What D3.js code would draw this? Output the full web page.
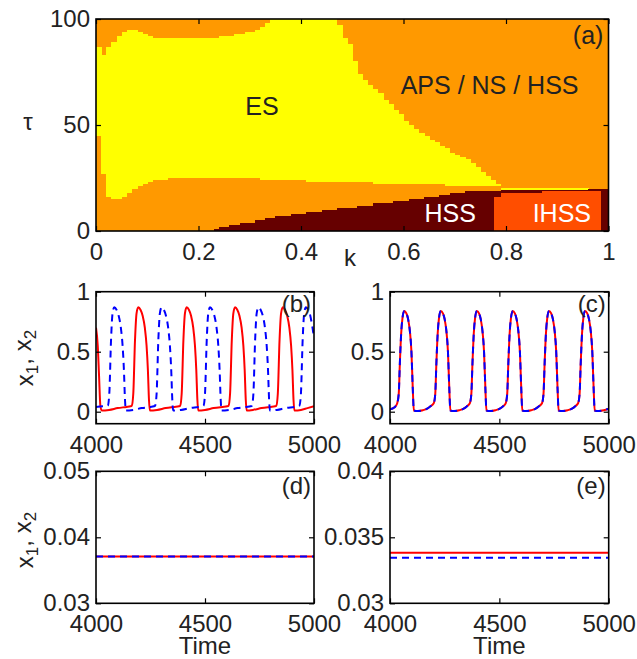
<!DOCTYPE html>
<html>
<head>
<meta charset="utf-8">
<script src="https://cdn.jsdelivr.net/npm/d3@7"></script>
<style>
  body { margin: 0; background: #fff; }
  svg { display: block; font-family: "Liberation Sans", Arial, Helvetica, sans-serif; }
</style>
</head>
<body>
<svg id="fig" width="637" height="659"></svg>
<script>
// ---------- (a) phase diagram in the (k, tau) plane ----------
// Column boundaries (tau) for k = 0.00, 0.01, ... 0.99, each column 0.01 wide.
const kStep = 0.01;
// upper edge of the ES (yellow) region
const esTop = [
  87, 83, 87, 89, 92, 94, 95, 95, 94, 93,
  92, 91, 91, 91, 91, 91, 91, 91, 91, 91,
  91, 91, 91, 91, 92, 92, 92, 93, 93, 94,
  94, 95, 96, 98, 100, 100, 100, 100, 100, 100,
  100, 100, 100, 100, 100, 100, 100, 97, 91, 88,
  80, 74, 71, 69, 67, 65, 62, 60, 57, 55,
  52, 50, 48, 46, 45, 43, 42, 40, 39, 37,
  36, 35, 34, 32, 30, 28, 26, 24, 22, 20.5,
  20.5, 20.5, 20.5, 20.5, 20.5, 20.5, 20.5, 20.5, 20.5, 20.5,
  20.5, 20.5, 20.5, 20.5, 20.5, 20.5, null, null, null, null
];
// lower edge of the ES (yellow) region
const esBottom = [
  45, 27, 16, 15, 15, 16, 18, 20, 21, 22,
  23, 24, 24, 24, 25, 25, 25, 25, 25, 25,
  25, 25, 25, 25, 25, 25, 25, 25, 25, 25,
  25, 25, 24, 24, 24, 24, 24, 24, 24, 24,
  24, 23, 23, 23, 23, 23, 23, 23, 23, 23,
  23, 23, 23, 23, 22, 22, 22, 22, 22, 22,
  22, 22, 22, 22, 22, 22, 22, 22, 21, 21,
  21, 21, 21, 21, 21, 21, 21, 21, 21, 19.5,
  19.5, 19.5, 19.5, 19.5, 19.5, 19.5, 19.5, 19.5, 19.5, 19.5,
  19.5, 19.5, 19.5, 19.5, 19.5, 19.5, null, null, null, null
];
// upper edge of the HSS (dark) region
const hssTop = [
  0, 0, 0, 0, 0, 0, 0, 0, 0, 0,
  0, 0, 0, 0, 0, 0, 0, 0, 0, 0,
  0, 0, 0, 1, 2, 2, 3, 3, 4, 4,
  4, 5, 5, 6, 6, 7, 7, 7, 8, 8,
  8, 9, 9, 9, 10, 10, 10, 11, 11, 11,
  11, 12, 12, 12, 13, 13, 13, 13, 14, 14,
  14, 15, 15, 15, 16, 16, 16, 17, 17, 18,
  18, 18, 19, 19, 19, 19, 19, 19, 19, 19.5,
  19.5, 19.5, 19.5, 19.5, 19.5, 19.5, 19.5, 19.5, 19.5, 19.5,
  19.5, 19.5, 19.5, 19.5, 19.5, 19.5, 20, 20, 20, 20
];
// inhomogeneous steady state block: k extent and per-column upper edge
const ihssSpan = [0.776, 0.986];
const ihssTop = [
  16, 16, 18, 18, 18, 18, 18, 18, 18, 18,
  19, 19, 19, 19, 19, 19, 19, 19, 19, 19, 19, 19
]; // columns 77 … 98

const kTicks = [0, 0.2, 0.4, 0.6, 0.8, 1];
const tauTicks = [0, 50, 100];

// ---------- (b)-(e) time series, [time, value] ----------
const timeTicks = [4000, 4500, 5000];

// (b) out-of-phase oscillation
const bX1 = [
  [4000, 0.70], [4008, 0.55], [4014, 0.30], [4020, 0.05], [4026, 0.01],
  [4060, 0.015], [4100, 0.03], [4140, 0.04], [4158, 0.045],
  [4164, 0.05], [4171, 0.15], [4179, 0.6], [4186, 0.82], [4194, 0.87], [4204, 0.85],
  [4214, 0.8], [4224, 0.7], [4232, 0.55], [4238, 0.35], [4243, 0.1], [4247, 0.01],
  [4280, 0.015], [4320, 0.03], [4360, 0.04], [4380, 0.045],
  [4386, 0.05], [4393, 0.15], [4401, 0.6], [4408, 0.82], [4416, 0.87], [4426, 0.85],
  [4436, 0.8], [4446, 0.7], [4454, 0.55], [4460, 0.35], [4465, 0.1], [4469, 0.01],
  [4500, 0.015], [4540, 0.03], [4580, 0.04], [4602, 0.045],
  [4608, 0.05], [4615, 0.15], [4623, 0.6], [4630, 0.82], [4638, 0.87], [4648, 0.85],
  [4658, 0.8], [4668, 0.7], [4676, 0.55], [4682, 0.35], [4687, 0.1], [4691, 0.01],
  [4720, 0.015], [4760, 0.03], [4800, 0.04], [4821, 0.045],
  [4827, 0.05], [4834, 0.15], [4842, 0.6], [4849, 0.82], [4857, 0.87], [4867, 0.85],
  [4877, 0.8], [4887, 0.7], [4895, 0.55], [4901, 0.35], [4906, 0.1], [4910, 0.01],
  [4940, 0.015], [4970, 0.03], [5000, 0.045]
];
const bX2 = [
  [4000, 0.04], [4030, 0.045],
  [4054, 0.05], [4061, 0.15], [4069, 0.6], [4076, 0.82], [4084, 0.87], [4094, 0.85],
  [4104, 0.8], [4114, 0.7], [4122, 0.55], [4128, 0.35], [4133, 0.1], [4137, 0.01],
  [4170, 0.015], [4210, 0.03], [4250, 0.04], [4265, 0.045],
  [4271, 0.05], [4278, 0.15], [4286, 0.6], [4293, 0.82], [4301, 0.87], [4311, 0.85],
  [4321, 0.8], [4331, 0.7], [4339, 0.55], [4345, 0.35], [4350, 0.1], [4354, 0.01],
  [4390, 0.015], [4430, 0.03], [4470, 0.04], [4487, 0.045],
  [4493, 0.05], [4500, 0.15], [4508, 0.6], [4515, 0.82], [4523, 0.87], [4533, 0.85],
  [4543, 0.8], [4553, 0.7], [4561, 0.55], [4567, 0.35], [4572, 0.1], [4576, 0.01],
  [4610, 0.015], [4650, 0.03], [4690, 0.04], [4709, 0.045],
  [4715, 0.05], [4722, 0.15], [4730, 0.6], [4737, 0.82], [4745, 0.87], [4755, 0.85],
  [4765, 0.8], [4775, 0.7], [4783, 0.55], [4789, 0.35], [4794, 0.1], [4798, 0.01],
  [4830, 0.015], [4870, 0.03], [4910, 0.04], [4927, 0.045],
  [4933, 0.05], [4940, 0.15], [4948, 0.6], [4955, 0.82], [4963, 0.87], [4973, 0.85],
  [4983, 0.8], [4993, 0.7], [5000, 0.62]
];

// (c) in-phase (synchronised) oscillation: both oscillators coincide
const cX1 = [
  [4000, 0.02], [4015, 0.03], [4025, 0.045],
  [4033, 0.07], [4040, 0.15], [4045, 0.4], [4051, 0.65], [4057, 0.78], [4065, 0.84],
  [4075, 0.82], [4083, 0.77], [4091, 0.67], [4098, 0.5], [4104, 0.2], [4109, 0.01],
  [4125, 0.005], [4150, 0.012], [4170, 0.025], [4185, 0.045],
  [4200, 0.07], [4207, 0.15], [4212, 0.4], [4218, 0.65], [4224, 0.78], [4232, 0.84],
  [4242, 0.82], [4250, 0.77], [4258, 0.67], [4265, 0.5], [4271, 0.2], [4276, 0.01],
  [4292, 0.005], [4317, 0.012], [4337, 0.025], [4352, 0.045],
  [4365, 0.07], [4372, 0.15], [4377, 0.4], [4383, 0.65], [4389, 0.78], [4397, 0.84],
  [4407, 0.82], [4415, 0.77], [4423, 0.67], [4430, 0.5], [4436, 0.2], [4441, 0.01],
  [4457, 0.005], [4482, 0.012], [4502, 0.025], [4517, 0.045],
  [4529, 0.07], [4536, 0.15], [4541, 0.4], [4547, 0.65], [4553, 0.78], [4561, 0.84],
  [4571, 0.82], [4579, 0.77], [4587, 0.67], [4594, 0.5], [4600, 0.2], [4605, 0.01],
  [4621, 0.005], [4646, 0.012], [4666, 0.025], [4681, 0.045],
  [4695, 0.07], [4702, 0.15], [4707, 0.4], [4713, 0.65], [4719, 0.78], [4727, 0.84],
  [4737, 0.82], [4745, 0.77], [4753, 0.67], [4760, 0.5], [4766, 0.2], [4771, 0.01],
  [4787, 0.005], [4812, 0.012], [4832, 0.025], [4847, 0.045],
  [4860, 0.07], [4867, 0.15], [4872, 0.4], [4878, 0.65], [4884, 0.78], [4892, 0.84],
  [4902, 0.82], [4910, 0.77], [4918, 0.67], [4925, 0.5], [4931, 0.2], [4936, 0.01],
  [4952, 0.005], [4977, 0.012], [5000, 0.025]
];
const cX2 = cX1.map(d => [d[0], d[1]]);

// (d) homogeneous steady state, (e) inhomogeneous steady state
const dX1 = [[4000, 0.0371], [5000, 0.0371]];
const dX2 = [[4000, 0.0371], [5000, 0.0371]];
const eX1 = [[4000, 0.03383], [5000, 0.03383]];
const eX2 = [[4000, 0.03345], [5000, 0.03345]];

// ---------- drawing ----------
const svg = d3.select("#fig");
const INK = "#222";
const FS = 24;

const colors = {
  orange: "#ff9900",
  yellow: "#ffff00",
  hss: "#660000",
  ihss: "#ff4e00",
  x1: "#ff0000",
  x2: "#0000ff"
};

function drawFrame(g, x, y, opt) {
  const [x0, x1] = x.range();
  const [y0, y1] = y.range();
  const tick = 5;
  const bottom = g.append("g").attr("transform", `translate(0,${y0})`)
    .call(d3.axisBottom(x).tickValues(opt.xTicks).tickFormat(opt.xFmt)
      .tickSizeInner(-tick).tickSizeOuter(0).tickPadding(12));
  const left = g.append("g").attr("transform", `translate(${x0},0)`)
    .call(d3.axisLeft(y).tickValues(opt.yTicks).tickFormat(opt.yFmt)
      .tickSizeInner(-tick).tickSizeOuter(0).tickPadding(6));
  const top = g.append("g").attr("transform", `translate(0,${y1})`)
    .call(d3.axisTop(x).tickValues(opt.xTicks).tickFormat("")
      .tickSizeInner(-tick).tickSizeOuter(0));
  const right = g.append("g").attr("transform", `translate(${x1},0)`)
    .call(d3.axisRight(y).tickValues(opt.yTicks).tickFormat("")
      .tickSizeInner(-tick).tickSizeOuter(0));
  [bottom, left, top, right].forEach(a => {
    a.attr("font-family", null).attr("font-size", null);
    a.select(".domain").remove();
    a.selectAll("line").attr("stroke", "#000").attr("stroke-width", 1.2);
    a.selectAll("text").attr("fill", INK).style("font-size", FS + "px");
  });
  g.append("rect")
    .attr("x", x0).attr("y", y1)
    .attr("width", x1 - x0).attr("height", y0 - y1)
    .attr("fill", "none").attr("stroke", "#000").attr("stroke-width", 1.6);
}

function fmtPlain(d) { return String(d); }

// ---- panel (a)
{
  const g = svg.append("g");
  const x = d3.scaleLinear().domain([0, 1]).range([96, 608.5]);
  const y = d3.scaleLinear().domain([0, 100]).range([231, 19]);
  const cols = d3.range(esTop.length);
  const ihssFirst = 77;

  g.append("rect").attr("x", x(0)).attr("y", y(100))
    .attr("width", x(1) - x(0)).attr("height", y(0) - y(100))
    .attr("fill", colors.orange);

  const cells = g.append("g").attr("shape-rendering", "crispEdges");
  cells.selectAll("rect.es")
    .data(cols.filter(i => esTop[i] !== null && esTop[i] > esBottom[i]))
    .join("rect").attr("class", "es")
    .attr("x", i => x(i * kStep))
    .attr("width", i => x((i + 1) * kStep) - x(i * kStep) + 0.5)
    .attr("y", i => y(esTop[i]))
    .attr("height", i => y(esBottom[i]) - y(esTop[i]))
    .attr("fill", colors.yellow);
  cells.selectAll("rect.hss")
    .data(cols.filter(i => hssTop[i] > 0))
    .join("rect").attr("class", "hss")
    .attr("x", i => x(i * kStep))
    .attr("width", i => x((i + 1) * kStep) - x(i * kStep) + 0.5)
    .attr("y", i => y(hssTop[i]))
    .attr("height", i => y(0) - y(hssTop[i]))
    .attr("fill", colors.hss);
  cells.selectAll("rect.ihss")
    .data(ihssTop.map((t, j) => ({ col: ihssFirst + j, t })))
    .join("rect").attr("class", "ihss")
    .attr("x", d => x(Math.max(ihssSpan[0], d.col * kStep)))
    .attr("width", d => x(Math.min(ihssSpan[1], (d.col + 1) * kStep)) - x(Math.max(ihssSpan[0], d.col * kStep)))
    .attr("y", d => y(d.t))
    .attr("height", d => y(0) - y(d.t))
    .attr("fill", colors.ihss);

  drawFrame(g, x, y, { xTicks: kTicks, yTicks: tauTicks, xFmt: fmtPlain, yFmt: fmtPlain });

  const label = (txt, kx, ty, fill, anchor) => g.append("text")
    .attr("x", x(kx)).attr("y", y(ty)).attr("text-anchor", anchor || "middle")
    .attr("fill", fill).style("font-size", "25px").text(txt);
  label("ES", 0.324, 54.5, INK);
  label("APS / NS / HSS", 0.768, 64.5, INK);
  label("HSS", 0.691, 4.4, "#fff");
  label("IHSS", 0.909, 4.4, "#fff");
  label("(a)", 0.99, 88, INK, "end");

  g.append("text").attr("x", 350).attr("y", 266).attr("text-anchor", "middle")
    .attr("fill", INK).style("font-size", FS + "px").text("k");
  g.append("text").attr("x", 28).attr("y", 130).attr("text-anchor", "middle")
    .attr("fill", INK).style("font-size", FS + "px").text("\u03c4");
}

// ---- time-series panels
let clipId = 0;
function timePanel(opt) {
  const g = svg.append("g");
  const x = d3.scaleLinear().domain([4000, 5000]).range(opt.xr);
  const y = d3.scaleLinear().domain(opt.yDomain).range(opt.yr);
  const id = "clip" + (clipId++);
  g.append("clipPath").attr("id", id).append("rect")
    .attr("x", opt.xr[0]).attr("y", opt.yr[1])
    .attr("width", opt.xr[1] - opt.xr[0]).attr("height", opt.yr[0] - opt.yr[1]);
  const line = d3.line().x(d => x(d[0])).y(d => y(d[1])).curve(d3.curveMonotoneX);
  const lines = g.append("g").attr("clip-path", `url(#${id})`);
  lines.append("path").datum(opt.s1).attr("d", line)
    .attr("fill", "none").attr("stroke", colors.x1).attr("stroke-width", 2);
  lines.append("path").datum(opt.s2).attr("d", line)
    .attr("fill", "none").attr("stroke", colors.x2).attr("stroke-width", 2)
    .attr("stroke-dasharray", "7,5");

  drawFrame(g, x, y, { xTicks: timeTicks, yTicks: opt.yTicks, xFmt: fmtPlain, yFmt: opt.yFmt });

  g.append("text").attr("x", opt.xr[1] - 3).attr("y", opt.tagY).attr("text-anchor", "end")
    .attr("fill", INK).style("font-size", FS + "px").text(opt.tag);

  if (opt.ylabel) {
    const t = g.append("text")
      .attr("transform", `translate(33,${opt.ylabelY}) rotate(-90)`)
      .attr("text-anchor", "middle").attr("fill", INK).style("font-size", FS + "px");
    t.append("tspan").text("x");
    t.append("tspan").attr("dy", "0.3em").style("font-size", "17px").text("1");
    t.append("tspan").attr("dy", "-0.3em").text(", x");
    t.append("tspan").attr("dy", "0.3em").style("font-size", "17px").text("2");
  }
  if (opt.xlabel) {
    g.append("text").attr("x", (opt.xr[0] + opt.xr[1]) / 2).attr("y", 654)
      .attr("text-anchor", "middle").attr("fill", INK).style("font-size", FS + "px").text("Time");
  }
}

const fmtUnit = d => String(d);
timePanel({ xr: [96, 314], yr: [423.7, 291.7], yDomain: [-0.1, 1], yTicks: [0, 0.5, 1],
  yFmt: fmtUnit, s1: bX1, s2: bX2, tag: "(b)", tagY: 312, ylabel: true, ylabelY: 358 });
timePanel({ xr: [390, 608.7], yr: [423.7, 291.7], yDomain: [-0.1, 1], yTicks: [0, 0.5, 1],
  yFmt: fmtUnit, s1: cX1, s2: cX2, tag: "(c)", tagY: 312 });
timePanel({ xr: [96, 314], yr: [603.3, 471.3], yDomain: [0.03, 0.05], yTicks: [0.03, 0.04, 0.05],
  yFmt: d3.format(".2f"), s1: dX1, s2: dX2, tag: "(d)", tagY: 494, ylabel: true, ylabelY: 540, xlabel: true });
timePanel({ xr: [390, 608.7], yr: [603.3, 471.3], yDomain: [0.03, 0.04], yTicks: [0.03, 0.035, 0.04],
  yFmt: d => (d === 0.035 ? "0.035" : d3.format(".2f")(d)), s1: eX1, s2: eX2, tag: "(e)", tagY: 494, xlabel: true });
</script>
</body>
</html>
